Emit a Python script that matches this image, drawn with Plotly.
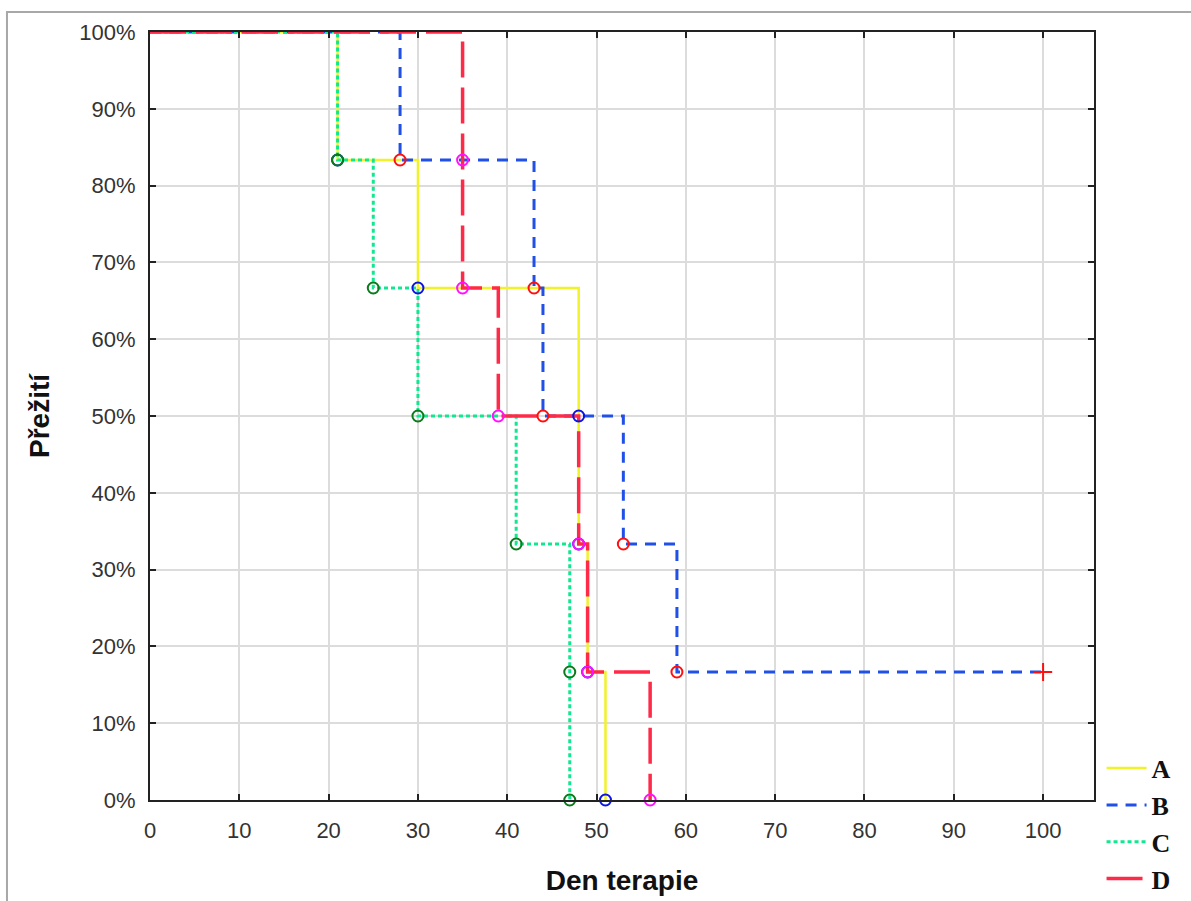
import plotly.graph_objects as go

# Kaplan-Meier step data (day, survival fraction)
a_days = [0, 21, 30, 48, 48, 49, 51]
a_surv = [1.0, 5/6, 4/6, 3/6, 2/6, 1/6, 0.0]

b_days = [0, 28, 43, 44, 53, 59, 100]
b_surv = [1.0, 5/6, 4/6, 3/6, 2/6, 1/6, 1/6]

c_days = [0, 21, 25, 30, 41, 47, 47]
c_surv = [1.0, 5/6, 4/6, 3/6, 2/6, 1/6, 0.0]

d_days = [0, 35, 35, 39, 48, 49, 56]
d_surv = [1.0, 5/6, 4/6, 3/6, 2/6, 1/6, 0.0]

# censored observation
b_cens_day = [100]
b_cens_surv = [1/6]

x_ticks = [0, 10, 20, 30, 40, 50, 60, 70, 80, 90, 100]
y_ticks = [0, 0.1, 0.2, 0.3, 0.4, 0.5, 0.6, 0.7, 0.8, 0.9, 1.0]
y_tick_text = [f"{int(round(v*100))}%" for v in y_ticks]

series = [
    ("A", a_days, a_surv, dict(color="#f2f22a", width=2.5, dash="solid"), "#0a14e6"),
    ("B", b_days, b_surv, dict(color="#2050e8", width=3, dash="11px,8px"), "#ff1010"),
    ("C", c_days, c_surv, dict(color="#10e890", width=3, dash="4px,3px"), "#0a7a1a"),
    ("D", d_days, d_surv, dict(color="#ff2a48", width=3.5, dash="36px,10px"), "#ff10ff"),
]

fig = go.Figure()

lookup = {s[0]: s for s in series}
for name in ["A", "B", "C", "D"]:
    _, xs, ys, ln, _ = lookup[name]
    fig.add_trace(go.Scatter(
        x=xs, y=ys, mode="lines", name=name, line=ln, line_shape="hv",
        cliponaxis=False,
    ))

for name in ["B", "A", "C", "D"]:
    _, xs, ys, _, mc = lookup[name]
    n = len(xs)
    if name == "B":
        mx, my = xs[1:n-1], ys[1:n-1]
    else:
        mx, my = xs[1:], ys[1:]
    fig.add_trace(go.Scatter(
        x=mx, y=my, mode="markers", showlegend=False, cliponaxis=False,
        marker=dict(symbol="circle-open", size=11, color=mc, line=dict(width=2, color=mc)),
    ))

fig.add_trace(go.Scatter(
    x=b_cens_day, y=b_cens_surv, mode="markers", showlegend=False, cliponaxis=False,
    marker=dict(symbol="cross-thin-open", size=13, color="#ff1010", line=dict(width=2, color="#ff1010")),
))

axis_common = dict(
    showline=True, linecolor="#222222", linewidth=2, mirror="ticks",
    ticks="inside", ticklen=6, tickwidth=2, tickcolor="#222222",
    showgrid=True, gridcolor="#dcdcdc", gridwidth=2, zeroline=False,
    tickfont=dict(family="Liberation Sans, Arial, sans-serif", size=22, color="#333333"),
)

fig.update_xaxes(
    range=[0, 105.7], tickvals=x_ticks, ticktext=[str(v) for v in x_ticks],
    ticklabelstandoff=10,
    title=dict(text="Den terapie", standoff=28,
               font=dict(family="Liberation Sans, Arial, sans-serif", size=28, color="#111111", weight="bold")),
    **axis_common,
)
fig.update_yaxes(
    range=[0, 1], tickvals=y_ticks, ticktext=y_tick_text,
    ticklabelstandoff=8,
    title=dict(text="Přežití", standoff=22,
               font=dict(family="Liberation Sans, Arial, sans-serif", size=28, color="#111111", weight="bold")),
    **axis_common,
)

fig.add_shape(type="rect", xref="paper", yref="paper",
              x0=-0.1515, x1=1.11, y0=-0.16, y1=1.026,
              line=dict(color="#a8a8a8", width=2), fillcolor="rgba(0,0,0,0)", layer="below")

fig.update_layout(
    width=1191, height=901,
    margin=dict(l=150, r=97, t=32, b=101, autoexpand=False),
    paper_bgcolor="white", plot_bgcolor="white",
    showlegend=True,
    legend=dict(
        x=1.008, y=0.072, xanchor="left", yanchor="top",
        font=dict(family="Liberation Serif, Times New Roman, serif", size=26, color="#111111", weight="bold"),
        bgcolor="rgba(0,0,0,0)", itemwidth=40, tracegroupgap=0,
    ),
)

fig.write_html("out.html")
